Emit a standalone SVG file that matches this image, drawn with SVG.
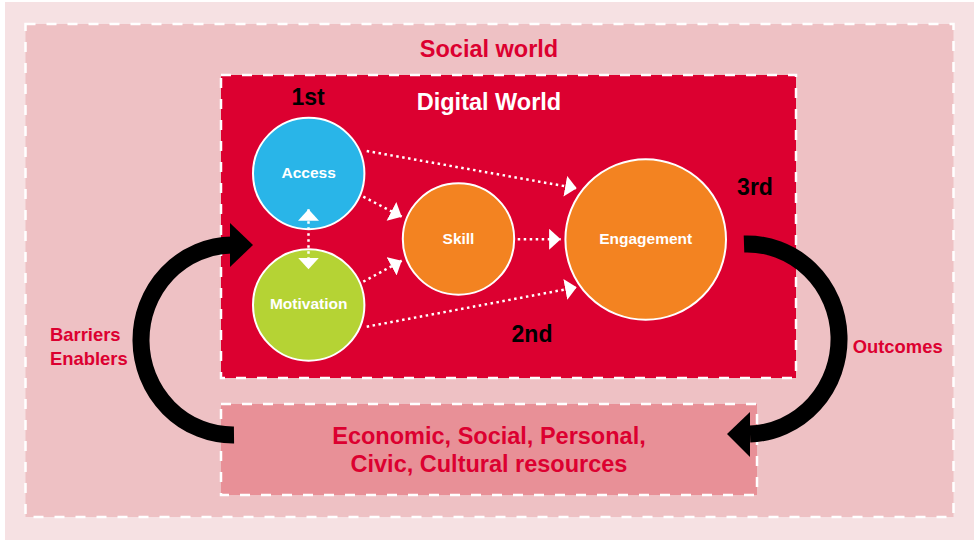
<svg xmlns="http://www.w3.org/2000/svg" width="974" height="540" viewBox="0 0 974 540">
<defs>
<style>
.frame{stroke:#ffffff;stroke-width:2.5;stroke-dasharray:10 11}
.node{stroke:#ffffff;stroke-width:2}
.lbl{font-family:"Liberation Sans",Arial,sans-serif;font-weight:bold}
.nl{fill:#ffffff;font-size:15.5px;text-anchor:middle}
.big{font-size:23.5px;text-anchor:middle}
.red{fill:#dc0030}
.dot{stroke:#ffffff;stroke-width:2.5;stroke-dasharray:2.5 3.5;fill:none}
.black{stroke:#000000;stroke-width:17;fill:none}
</style>
<marker id="ah" markerUnits="userSpaceOnUse" markerWidth="12" markerHeight="21" viewBox="0 0 11 20" refX="11" refY="10" orient="auto-start-reverse">
<path d="M0,0 L11,10 L0,20 z" fill="#ffffff"/>
</marker>
</defs>
<rect x="0" y="0" width="974" height="540" fill="#ffffff"/>
<rect x="5" y="2" width="969" height="538" fill="#f6e1e3"/>
<g id="social-world">
<rect class="frame" x="25.5" y="24" width="928" height="493" fill="#eec1c4"/>
<text class="lbl big red" x="489" y="57">Social world</text>
</g>
<g id="digital-world">
<rect class="frame" x="221" y="75" width="575" height="303" fill="#dc0030"/>
<text class="lbl big" fill="#ffffff" x="489" y="110">Digital World</text>
<text class="lbl" fill="#000000" font-size="23px" text-anchor="middle" x="308" y="105">1st</text>
<text class="lbl" fill="#000000" font-size="23px" text-anchor="middle" x="532" y="341.5">2nd</text>
<text class="lbl" fill="#000000" font-size="23px" text-anchor="middle" x="755" y="195">3rd</text>
</g>
<g id="resources">
<rect class="frame" x="221" y="404" width="536" height="91" fill="#e89097"/>
<text class="lbl big red" x="489" y="443.5">Economic, Social, Personal,</text>
<text class="lbl big red" x="489" y="472">Civic, Cultural resources</text>
</g>
<g id="access">
<circle class="node" cx="308.7" cy="173.5" r="55.7" fill="#29b5e8"/>
<text class="lbl nl" x="308.7" y="177.7">Access</text>
</g>
<g id="motivation">
<circle class="node" cx="308.7" cy="305" r="55.7" fill="#b5d334"/>
<text class="lbl nl" x="308.7" y="309">Motivation</text>
</g>
<g id="skill">
<circle class="node" cx="458.5" cy="239" r="55.7" fill="#f38321"/>
<text class="lbl nl" x="458.5" y="244">Skill</text>
</g>
<g id="engagement">
<circle class="node" cx="645.7" cy="239.5" r="80.3" fill="#f38321"/>
<text class="lbl nl" x="645.7" y="244">Engagement</text>
</g>
<g id="connectors">
<line class="dot" x1="366.7" y1="151" x2="576.7" y2="188.3" marker-end="url(#ah)"/>
<line class="dot" x1="363.3" y1="196.7" x2="401.7" y2="216.7" marker-end="url(#ah)"/>
<line class="dot" x1="517.7" y1="239.3" x2="560.7" y2="239.3" marker-end="url(#ah)"/>
<line class="dot" x1="363.3" y1="281.7" x2="401.7" y2="260.7" marker-end="url(#ah)"/>
<line class="dot" x1="366.7" y1="326.7" x2="576.7" y2="287.3" marker-end="url(#ah)"/>
<line class="dot" x1="308.5" y1="209.3" x2="308.5" y2="269.3" marker-start="url(#ah)" marker-end="url(#ah)"/>
<path class="black" d="M 234 435 A 92 95 0 0 1 232 245"/>
<polygon points="230,223 253,245 230,267" fill="#000000"/>
<path class="black" d="M 744 244 A 92 95 0 0 1 750 434"/>
<polygon points="750,412 727,434 750,457" fill="#000000"/>
</g>
<g id="labels">
<text class="lbl red" font-size="18.4px" x="50" y="341">Barriers</text>
<text class="lbl red" font-size="18.4px" x="50" y="365">Enablers</text>
<text class="lbl red" font-size="18.4px" x="852.7" y="353.3">Outcomes</text>
</g>
</svg>
